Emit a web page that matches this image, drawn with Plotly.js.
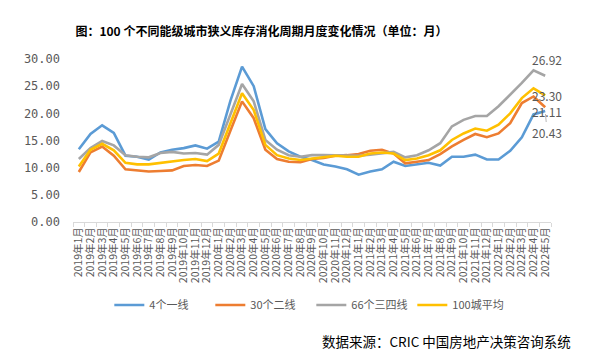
<!DOCTYPE html>
<html><head><meta charset="utf-8">
<script src="https://cdn.plot.ly/plotly-3.0.1.min.js"></script>
<style>html,body{margin:0;padding:0;background:#fff}#chart{width:601px;height:362px}</style>
</head><body><div id="chart"></div>
<script>
const months = ["2019年1月","2019年2月","2019年3月","2019年4月","2019年5月","2019年6月","2019年7月","2019年8月","2019年9月","2019年10月","2019年11月","2019年12月",
"2020年1月","2020年2月","2020年3月","2020年4月","2020年5月","2020年6月","2020年7月","2020年8月","2020年9月","2020年10月","2020年11月","2020年12月",
"2021年1月","2021年2月","2021年3月","2021年4月","2021年5月","2021年6月","2021年7月","2021年8月","2021年9月","2021年10月","2021年11月","2021年12月",
"2022年1月","2022年2月","2022年3月","2022年4月","2022年5月"];
const tier1 = [13.4,16.2,17.8,16.4,12.2,12.0,11.5,12.8,13.3,13.6,14.1,13.5,14.8,22.3,28.6,25.0,17.1,14.5,13.0,12.0,11.4,10.6,10.2,9.7,8.7,9.3,9.7,11.1,10.3,10.6,10.9,10.4,12.0,12.0,12.4,11.5,11.5,13.1,15.6,19.8,20.43];
const tier2 = [9.2,12.8,13.9,12.2,9.7,9.5,9.3,9.4,9.5,10.3,10.5,10.3,11.3,16.8,22.2,19.1,13.3,11.6,11.1,11.0,11.6,11.8,12.2,12.3,12.5,13.1,13.3,12.6,10.8,11.1,11.4,12.5,13.9,15.1,16.2,15.6,16.3,18.2,21.9,23.1,21.11];
const tier34 = [11.6,13.6,14.9,14.1,12.3,12.0,11.9,12.7,12.9,12.6,12.7,12.4,14.2,19.8,25.4,22.2,15.1,13.3,12.3,12.0,12.3,12.3,12.3,12.2,12.2,12.4,12.6,12.9,11.9,12.3,13.2,14.5,17.6,18.8,19.5,19.5,21.3,23.4,25.6,27.9,26.92];
const avg100 = [10.2,13.3,14.4,13.2,10.9,10.6,10.6,10.9,11.1,11.4,11.6,11.2,12.6,18.2,23.7,20.6,14.2,12.3,11.7,11.4,11.7,12.0,12.2,12.0,12.0,12.6,12.8,12.6,11.4,11.7,12.3,13.2,15.1,16.3,17.2,16.8,17.9,20.0,22.8,24.6,23.30];
const names = ["4个一线","30个二线","66个三四线","100城平均"];
const colors = ["#5B9BD5","#ED7D31","#A5A5A5","#FFC000"];
const series = [tier1, tier2, tier34, avg100];

const font = "'Noto Sans CJK SC', 'Noto Sans', sans-serif";
const traces = series.map((s,i)=>({
  type:'scatter', mode:'lines', x:months, y:s, name:names[i],
  line:{color:colors[i], width:2.6}, hoverinfo:'skip'
}));
const last = months.length-1;
const lblFont = {family:font, size:12, color:'#595959'};
const annotations = [
  {xref:'x', yref:'y', x:months[last], y:tier34[last], text:tier34[last].toFixed(2), showarrow:false, yshift:16, xshift:2, font:lblFont},
  {xref:'x', yref:'y', x:months[last], y:avg100[last], text:avg100[last].toFixed(2), showarrow:false, xshift:2, yshift:0, font:lblFont},
  {xref:'x', yref:'y', x:months[last], y:tier2[last], text:tier2[last].toFixed(2), showarrow:false, xshift:2, yshift:-4, font:lblFont},
  {xref:'x', yref:'y', x:months[last], y:tier1[last], text:tier1[last].toFixed(2), showarrow:true, arrowhead:0, arrowwidth:0.8, arrowcolor:'#A6A6A6', ax:2, ay:21, standoff:3, font:lblFont},
  {xref:'paper', yref:'paper', x:1.046, y:-0.73, xanchor:'right', yanchor:'middle', text:'数据来源：CRIC 中国房地产决策咨询系统', showarrow:false, font:{family:font, size:13.5, color:'#000'}}
];
const layout = {
  width:601, height:362,
  margin:{l:73, r:50, t:59, b:140, autoexpand:false},
  paper_bgcolor:'#fff', plot_bgcolor:'#fff',
  font:{family:font, color:'#595959'},
  title:{text:'<b>图：100 个不同能级城市狭义库存消化周期月度变化情况（单位：月）</b>', x:0.435, xanchor:'center', xref:'container', y:1-31.5/362, yref:'container', yanchor:'middle', font:{family:font, size:12, color:'#000'}},
  showlegend:true,
  legend:{orientation:'h', x:0.518, xanchor:'center', xref:'container', y:1-305/362, yref:'container', yanchor:'middle', font:{family:font, size:11, color:'#595959'}, itemwidth:30, tracegroupgap:0, entrywidth:56, entrywidthmode:'pixels'},
  xaxis:{type:'category', tickmode:'linear', tick0:0, dtick:1, tickangle:-90, tickson:'boundaries', ticks:'outside', ticklen:4, tickcolor:'#D9D9D9',
    showline:true, linecolor:'#D9D9D9', linewidth:1, showgrid:false, zeroline:false, tickfont:{family:font, size:10.5, color:'#595959'}, range:[-0.5,40.5]},
  yaxis:{range:[0,30], dtick:5, tick0:0, tickformat:'.2f', showgrid:false, zeroline:false, showline:false, ticks:'', ticklabelstandoff:12,
    tickfont:{family:"'DejaVu Sans Mono', monospace", size:12, color:'#595959'}},
  annotations:annotations
};
Plotly.newPlot('chart', traces, layout, {staticPlot:true, displayModeBar:false});
</script></body></html>
